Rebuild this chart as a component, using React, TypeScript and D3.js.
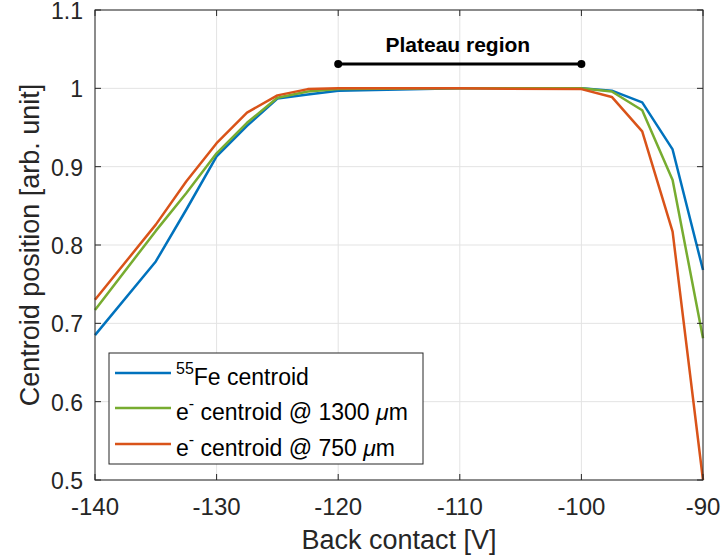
import { scaleLinear, line } from "d3";

const width = 724;
const height = 558;
const margin = { left: 95, right: 21, top: 10, bottom: 78 };

const voltages = [-140, -135, -132.5, -130, -127.5, -125, -122.5, -120, -110, -100, -97.5, -95, -92.5, -90];
const feCentroid = [0.685, 0.779, 0.845, 0.913, 0.952, 0.987, 0.992, 0.997, 1.0, 1.0, 0.997, 0.982, 0.922, 0.768];
const e1300Centroid = [0.717, 0.818, 0.866, 0.917, 0.956, 0.988, 0.996, 0.999, 1.0, 1.0, 0.996, 0.972, 0.883, 0.681];
const e750Centroid = [0.73, 0.826, 0.881, 0.93, 0.969, 0.991, 0.999, 1.0, 1.0, 0.999, 0.989, 0.945, 0.817, 0.5];

const xTicks = [-140, -130, -120, -110, -100, -90];
const yTicks = [0.5, 0.6, 0.7, 0.8, 0.9, 1, 1.1];
const plateau = [-120, -100];
const plateauLevel = 1.031;

const series = [
  { key: "fe", values: feCentroid, color: "#0072BD" },
  { key: "e1300", values: e1300Centroid, color: "#77AC30" },
  { key: "e750", values: e750Centroid, color: "#D95319" },
];

const App = () => {
  const x = scaleLinear()
    .domain([-140, -90])
    .range([margin.left, width - margin.right]);
  const y = scaleLinear()
    .domain([0.5, 1.1])
    .range([height - margin.bottom, margin.top]);
  const x0 = x.range()[0];
  const x1 = x.range()[1];
  const y0 = y.range()[0];
  const y1 = y.range()[1];
  const font = "'Liberation Sans', Arial, sans-serif";
  const axisColor = "#262626";

  const path = (vals: number[]) =>
    line<number>()
      .x((_, i) => x(voltages[i]))
      .y((d) => y(d))(vals) || "";

  const legendX = 109;
  const legendY = 353;
  const rows = [373, 408, 444];
  const lf = 23;

  return (
    <svg width={width} height={height} style={{ position: "absolute", left: 0, top: 0 }} fontFamily={font}>
      <rect width={width} height={height} fill="white" />
      {/* grid */}
      {xTicks.map((t) => (
        <line key={"gx" + t} x1={x(t)} x2={x(t)} y1={y0} y2={y1} stroke="#e3e3e3" strokeWidth={1} />
      ))}
      {yTicks.map((t) => (
        <line key={"gy" + t} x1={x0} x2={x1} y1={y(t)} y2={y(t)} stroke="#e3e3e3" strokeWidth={1} />
      ))}
      {/* series */}
      {series.map((s) => (
        <path key={s.key} d={path(s.values)} fill="none" stroke={s.color} strokeWidth={2.5} strokeLinejoin="round" />
      ))}
      {/* plateau marker */}
      <line x1={x(plateau[0])} x2={x(plateau[1])} y1={y(plateauLevel)} y2={y(plateauLevel)} stroke="black" strokeWidth={3} />
      {plateau.map((p) => (
        <circle key={p} cx={x(p)} cy={y(plateauLevel)} r={4} fill="black" />
      ))}
      <text x={(x(plateau[0]) + x(plateau[1])) / 2 - 2} y={52} textAnchor="middle" fontWeight="bold" fontSize={21} fill="black">
        Plateau region
      </text>
      {/* axes box */}
      <rect x={x0} y={y1} width={x1 - x0} height={y0 - y1} fill="none" stroke={axisColor} strokeWidth={1} />
      {xTicks.map((t) => (
        <g key={"tx" + t}>
          <line x1={x(t)} x2={x(t)} y1={y0} y2={y0 - 6} stroke={axisColor} />
          <line x1={x(t)} x2={x(t)} y1={y1} y2={y1 + 6} stroke={axisColor} />
          <text x={x(t)} y={y0 + 35} textAnchor="middle" fontSize={24} fill={axisColor}>
            {t}
          </text>
        </g>
      ))}
      {yTicks.map((t) => (
        <g key={"ty" + t}>
          <line x1={x0} x2={x0 + 6} y1={y(t)} y2={y(t)} stroke={axisColor} />
          <line x1={x1} x2={x1 - 6} y1={y(t)} y2={y(t)} stroke={axisColor} />
          <text x={x0 - 12} y={y(t) + 9} textAnchor="end" fontSize={23} fill={axisColor}>
            {t}
          </text>
        </g>
      ))}
      <text x={(x0 + x1) / 2} y={549} textAnchor="middle" fontSize={27} fill={axisColor}>
        Back contact [V]
      </text>
      <text transform={`translate(39, ${(y0 + y1) / 2}) rotate(-90)`} textAnchor="middle" fontSize={27} fill={axisColor}>
        Centroid position [arb. unit]
      </text>
      {/* legend */}
      <rect x={legendX} y={legendY} width={314} height={111} fill="white" stroke={axisColor} strokeWidth={1} />
      {series.map((s, i) => (
        <line key={"l" + s.key} x1={115} x2={171} y1={rows[i]} y2={rows[i]} stroke={s.color} strokeWidth={2.5} />
      ))}
      <text x={176} y={rows[0] + 12} fontSize={lf} fill="black">
        <tspan dy={-11} fontSize={16}>55</tspan>
        <tspan dy={11}>Fe centroid</tspan>
      </text>
      <text x={176} y={rows[1] + 12} fontSize={lf} fill="black">
        e<tspan dy={-11} fontSize={16}>-</tspan>
        <tspan dy={11}> centroid @ 1300 </tspan>
        <tspan fontStyle="italic">μ</tspan>m
      </text>
      <text x={176} y={rows[2] + 12} fontSize={lf} fill="black">
        e<tspan dy={-11} fontSize={16}>-</tspan>
        <tspan dy={11}> centroid @ 750 </tspan>
        <tspan fontStyle="italic">μ</tspan>m
      </text>
    </svg>
  );
};

export default App;
